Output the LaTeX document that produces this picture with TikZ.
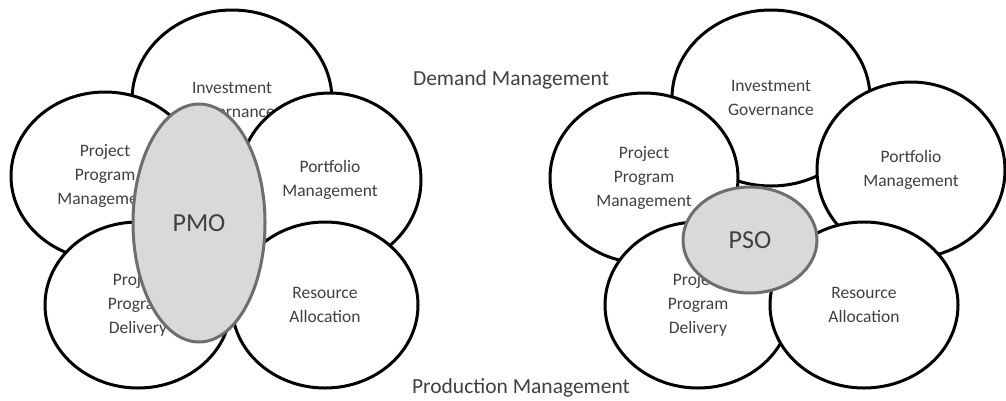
\documentclass[tikz,border=0pt]{standalone}
\usepackage{fontspec}
\setmainfont{Carlito}
\usetikzlibrary{shapes.geometric}
\definecolor{txt}{RGB}{64,64,64}
\definecolor{ofill}{RGB}{217,217,217}
\definecolor{oline}{RGB}{110,110,110}
\tikzset{
  petal/.style n args={2}{ellipse, draw=black, fill=white, line width=3pt, inner sep=0pt,
    minimum width=#1pt, minimum height=#2pt, align=center, text=txt,
    font=\fontsize{17.5}{24}\selectfont},
  office/.style n args={2}{ellipse, draw=oline, fill=ofill, line width=3pt, inner sep=0pt,
    minimum width=#1pt, minimum height=#2pt, text=txt,
    font=\fontsize{26}{30}\selectfont},
  caption/.style={text=txt, inner sep=0pt, font=\fontsize{21.5}{26}\selectfont}
}
\begin{document}
\begin{tikzpicture}[x=1pt,y=-1pt]
\useasboundingbox (0,0) rectangle (1006,400);
% left flower
\node[petal={200}{180}] (ig1) at (232,100) {Investment\\Governance};
\node[petal={188}{168}] (pm1) at (105,176) {Project\\Program\\Management};
\node[petal={182}{174}] (pf1) at (330,180) {Portfolio\\Management};
\node[petal={186}{166}] (pd1) at (138,305) {Project\\Program\\Delivery};
\node[petal={186}{166}] (ra1) at (325,305) {Resource\\Allocation};
\node[office={132}{238}] (pmo) at (199,223) {PMO};
% right flower
\node[petal={198}{176}] (ig2) at (771,98) {Investment\\Governance};
\node[petal={188}{170}] (pm2) at (644,178) {Project\\Program\\Management};
\node[petal={188}{176}] (pf2) at (911,170) {Portfolio\\Management};
\node[petal={186}{166}] (pd2) at (698,305) {Project\\Program\\Delivery};
\node[petal={188}{166}] (ra2) at (864,305) {Resource\\Allocation};
\node[office={134}{106}] (pso) at (750,240) {PSO};
% captions
\node[caption] (dm) at (511,80) {Demand Management};
\node[caption] (prm) at (521,388) {Production Management};
\end{tikzpicture}
\end{document}
